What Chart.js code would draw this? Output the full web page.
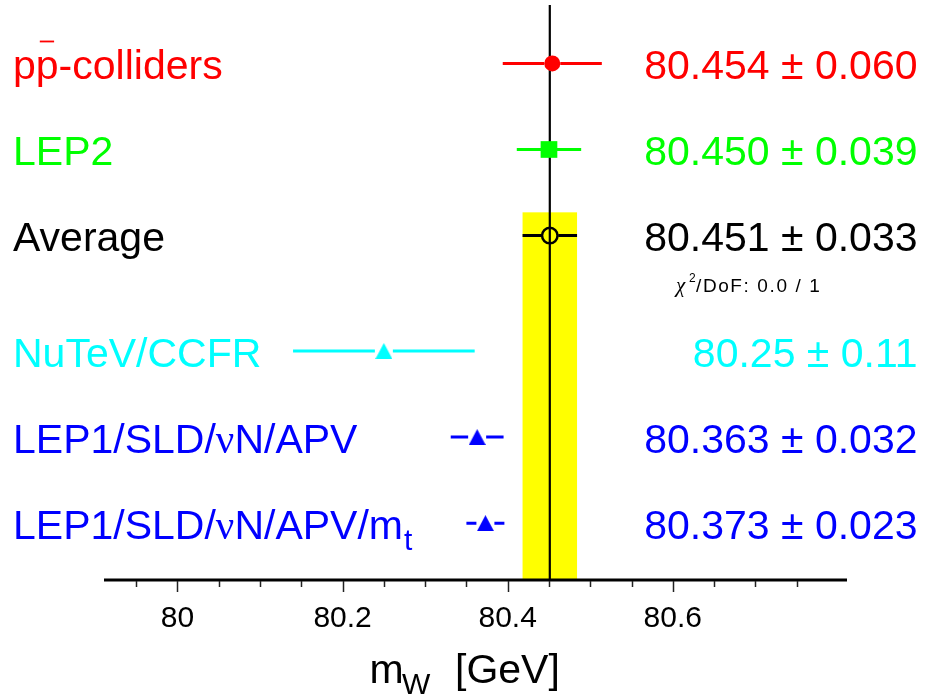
<!DOCTYPE html>
<html><head><meta charset="utf-8">
<script src="https://cdn.jsdelivr.net/npm/chart.js@4.4.0/dist/chart.umd.min.js"></script>
<style>html,body{margin:0;padding:0;background:#fff;}#wrap{width:925px;height:698px;}</style>
</head><body><div id="wrap"><canvas id="c" width="925" height="698"></canvas></div>
<script>
// ---- data ----
const categories = ['pp-colliders', 'LEP2', 'Average', 'NuTeV/CCFR', 'LEP1/SLD/νN/APV', 'LEP1/SLD/νN/APV/m_t'];
const values = [80.454, 80.450, 80.451, 80.25, 80.363, 80.373];
const errors = [0.060, 0.039, 0.033, 0.11, 0.032, 0.023];
const valueTexts = ['80.454 ± 0.060', '80.450 ± 0.039', '80.451 ± 0.033', '80.25 ± 0.11', '80.363 ± 0.032', '80.373 ± 0.023'];
const rowPositions = [0, 1, 2, 3.34, 4.34, 5.34];
const averageValue = 80.451;
const averageError = 0.033;
const chi2Text = '/DoF: 0.0 / 1';
const tickValues = [79.95, 80, 80.05, 80.1, 80.15, 80.2, 80.25, 80.3, 80.35, 80.4, 80.45, 80.5, 80.55, 80.6, 80.65, 80.7, 80.75];
const majorTickValues = [80, 80.2, 80.4, 80.6];
const tickLabels = ['80', '80.2', '80.4', '80.6'];
const axisTitleMain = 'm';
const axisTitleSub = 'W';
const axisTitleUnit = '[GeV]';

// ---- styles ----
const colors = ['#ff0000', '#00ff00', '#000000', '#00ffff', '#0000ff', '#0000ff'];
const SANS = "'Liberation Sans', Arial, sans-serif";
const SERIF = "'Liberation Serif', 'Times New Roman', serif";

function triangle(color) {
  const c = document.createElement('canvas');
  c.width = 17; c.height = 16;
  const g = c.getContext('2d');
  g.fillStyle = color;
  g.beginPath(); g.moveTo(8.5, 0); g.lineTo(17, 16); g.lineTo(0, 16); g.closePath(); g.fill();
  return c;
}
const pointStyles = ['circle', 'rect', 'circle', triangle(colors[3]), triangle(colors[4]), triangle(colors[5])];
const pointRadii = [8, 11.8, 7.75, 9, 9, 9];
const gaps = [8, 8, 8.5, 9, 9, 9];

const datasets = values.map((v, i) => ({
  label: categories[i],
  data: [{x: v, y: rowPositions[i]}],
  pointStyle: pointStyles[i],
  pointRadius: pointRadii[i],
  pointBackgroundColor: i === 2 ? 'rgba(0,0,0,0)' : colors[i],
  pointBorderColor: colors[i],
  pointBorderWidth: i === 2 ? 2.5 : 0,
  showLine: false
}));

const decor = {
  id: 'decor',
  beforeDatasetsDraw(chart) {
    const {ctx, chartArea: a, scales: {x, y}} = chart;
    ctx.save();
    ctx.fillStyle = '#ffff00';
    const bl = x.getPixelForValue(averageValue - averageError), br = x.getPixelForValue(averageValue + averageError);
    const bt = y.getPixelForValue(1.73);
    ctx.fillRect(bl, bt, br - bl, a.bottom - bt);
    ctx.strokeStyle = '#000'; ctx.lineWidth = 2.2;
    const vx = x.getPixelForValue(averageValue);
    ctx.beginPath(); ctx.moveTo(vx, a.top); ctx.lineTo(vx, a.bottom); ctx.stroke();
    ctx.lineWidth = 3;
    values.forEach((v, i) => {
      const py = y.getPixelForValue(rowPositions[i]);
      const pc = x.getPixelForValue(v);
      const pl = x.getPixelForValue(v - errors[i]);
      const pr = x.getPixelForValue(v + errors[i]);
      ctx.strokeStyle = colors[i];
      ctx.beginPath();
      ctx.moveTo(pl, py); ctx.lineTo(pc - gaps[i], py);
      ctx.moveTo(pc + gaps[i], py); ctx.lineTo(pr, py);
      ctx.stroke();
    });
    ctx.restore();
  },
  afterDatasetsDraw(chart) {
    const {ctx, chartArea: a, scales: {x, y}} = chart;
    ctx.save();
    ctx.strokeStyle = '#000'; ctx.lineWidth = 3;
    ctx.beginPath(); ctx.moveTo(a.left, a.bottom); ctx.lineTo(a.right, a.bottom); ctx.stroke();
    ctx.lineWidth = 1.5; ctx.strokeStyle = '#222';
    tickValues.forEach(t => {
      const px = Math.round(x.getPixelForValue(t)) + 0.5;
      const major = majorTickValues.some(m => Math.abs(m - t) < 1e-6);
      ctx.beginPath(); ctx.moveTo(px, a.bottom + 1); ctx.lineTo(px, a.bottom + (major ? 12 : 7)); ctx.stroke();
    });
    ctx.fillStyle = '#000';
    ctx.font = '30px ' + SANS; ctx.textAlign = 'center'; ctx.textBaseline = 'alphabetic';
    majorTickValues.forEach((t, i) => ctx.fillText(tickLabels[i], x.getPixelForValue(t), 627));
    ctx.textAlign = 'left';
    ctx.font = '41px ' + SANS; ctx.fillText(axisTitleMain, 369.5, 683);
    ctx.font = '30px ' + SANS; ctx.fillText(axisTitleSub, 402, 694);
    ctx.font = '41px ' + SANS; ctx.fillText(axisTitleUnit, 455, 683);

    categories.forEach((lab, i) => {
      const by = y.getPixelForValue(rowPositions[i]) + 15.7;
      ctx.fillStyle = colors[i];
      let cx = 13;
      let sub = null;
      let text = lab;
      if (text.includes('_')) { sub = text.split('_')[1]; text = text.split('_')[0]; }
      const parts = text.split('ν');
      parts.forEach((p, k) => {
        ctx.font = '41px ' + SANS;
        ctx.fillText(p, cx, by);
        cx += ctx.measureText(p).width;
        if (k < parts.length - 1) {
          ctx.font = '41px ' + SERIF;
          ctx.fillText('ν', cx, by);
          cx += ctx.measureText('ν').width;
        }
      });
      if (sub) {
        ctx.font = '30px ' + SANS;
        ctx.fillText(sub, cx + 1, by + 11);
      }
      if (i === 0) {
        ctx.font = '41px ' + SANS;
        const pw = ctx.measureText('p').width;
        ctx.fillRect(13 + pw + 4, by - 38.5, 14.3, 1.8);
      }
    });

    ctx.textAlign = 'right';
    ctx.font = '41px ' + SANS;
    valueTexts.forEach((t, i) => {
      ctx.fillStyle = colors[i];
      ctx.fillText(t, 917.5, y.getPixelForValue(rowPositions[i]) + 15.7);
    });

    ctx.textAlign = 'left'; ctx.fillStyle = '#000';
    ctx.font = 'italic 21px ' + SERIF; ctx.fillText('χ', 676, 292);
    ctx.font = '12px ' + SANS; ctx.fillText('2', 689, 282);
    ctx.font = '19px ' + SANS;
    ctx.letterSpacing = '1.6px';
    ctx.fillText(chi2Text, 696, 292);
    ctx.letterSpacing = '0px';
    ctx.restore();
  }
};

new Chart(document.getElementById('c'), {
  type: 'scatter',
  data: {datasets},
  options: {
    responsive: false,
    animation: false,
    layout: {autoPadding: false, padding: {left: 104, right: 78, top: 5, bottom: 118}},
    plugins: {legend: {display: false}, tooltip: {enabled: false}},
    scales: {
      x: {type: 'linear', min: 79.911, max: 80.811, display: false},
      y: {type: 'linear', min: -0.678, max: 6, reverse: true, display: false}
    }
  },
  plugins: [decor]
});
</script>
</body></html>
